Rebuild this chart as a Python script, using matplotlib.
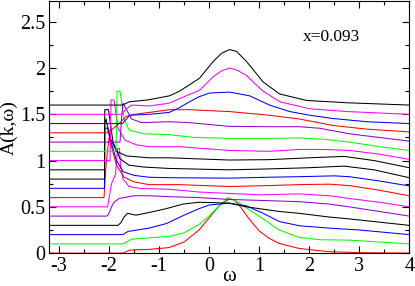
import matplotlib
matplotlib.use('Agg')
import matplotlib.pyplot as plt
from matplotlib.ticker import MultipleLocator, FormatStrFormatter

plt.rcParams['font.family'] = ['Liberation Serif', 'DejaVu Serif']
plt.rcParams['axes.unicode_minus'] = False

# A(k, w) curves; each curve is shifted up by 0.1*i
offsets = [0.0, 0.1, 0.2, 0.3, 0.4, 0.5, 0.6, 0.7, 0.8, 0.9, 1.0, 1.1, 1.2, 1.3, 1.4, 1.5, 1.6]
colors = ['#ff0000', '#00ff00', '#0000ff', '#000000', '#9400d3', '#ff00ff',
          '#ff0000', '#0000ff', '#000000', '#000000', '#ff00ff', '#00ff00',
          '#9400d3', '#ff0000', '#0000ff', '#ff00ff', '#000000']

w0 = [-3.2, -1.72, -1.6, -1.5, -1.2, -0.8, -0.5, -0.2, 0.0, 0.2, 0.4, 0.5, 0.6, 0.8, 1.0, 1.2, 1.4, 1.8, 2.4, 3.0, 4.0]
a0 = [0, 0, 0.03, 0.035, 0.04, 0.06, 0.12, 0.25, 0.38, 0.51, 0.585, 0.575, 0.52, 0.37, 0.24, 0.16, 0.105, 0.05, 0.015, 0.005, 0]

w1 = [-3.2, -1.72, -1.62, -1.55, -1.2, -0.8, -0.5, -0.2, 0.0, 0.2, 0.38, 0.55, 0.8, 1.0, 1.4, 1.8, 2.2, 2.8, 3.4, 4.0]
a1 = [0, 0, 0.03, 0.05, 0.065, 0.08, 0.12, 0.21, 0.30, 0.41, 0.50, 0.46, 0.37, 0.30, 0.15, 0.07, 0.045, 0.04, 0.02, 0.0]

w2 = [-3.2, -1.72, -1.62, -1.55, -1.2, -0.85, -0.5, -0.2, 0.0, 0.4, 0.75, 1.08, 1.41, 1.81, 2.41, 3.0, 4.0]
a2 = [0, 0, 0.035, 0.04, 0.07, 0.12, 0.21, 0.28, 0.32, 0.34, 0.31, 0.23, 0.14, 0.095, 0.07, 0.05, 0.0]

w3 = [-3.2, -1.82, -1.76, -1.70, -1.63, -1.46, -1.19, -0.86, -0.52, -0.19, 0.4, 0.75, 1.4, 1.8, 2.4, 2.8, 4.0]
a3 = [0, 0, 0.03, 0.09, 0.13, 0.11, 0.14, 0.18, 0.23, 0.25, 0.24, 0.20, 0.15, 0.13, 0.09, 0.07, 0.0]

w4 = [-3.2, -2.04, -2.0, -1.95, -1.9, -1.8, -1.7, -1.5, -1.2, -0.8, -0.2, 0.4, 1.0, 1.8, 2.4, 2.8, 3.4, 4.0]
a4 = [0, 0, 0.03, 0.10, 0.15, 0.19, 0.20, 0.22, 0.22, 0.21, 0.20, 0.18, 0.17, 0.156, 0.13, 0.10, 0.05, 0.0]

w5 = [-3.2, -2.03, -1.95, -1.87, -1.84, -1.83, -1.79, -1.77, -1.72, -1.6, -1.4, -0.8, -0.2, 1.0, 1.8, 2.4, 2.8, 3.4, 4.0]
a5 = [0, 0, 0.25, 0.35, 0.55, 0.63, 0.63, 0.45, 0.30, 0.22, 0.20, 0.19, 0.16, 0.13, 0.14, 0.12, 0.09, 0.05, 0.0]

w6 = [-3.2, -2.1, -2.06, -2.0, -1.95, -1.85, -1.7, -1.5, -1.2, -0.6, 0.4, 1.2, 1.8, 2.4, 2.8, 3.4, 4.0]
a6 = [0, 0, 0.35, 0.65, 0.55, 0.35, 0.22, 0.17, 0.14, 0.14, 0.12, 0.13, 0.14, 0.145, 0.13, 0.08, 0.02]

w7 = [-3.2, -2.09, -2.085, -2.03, -1.98, -1.85, -1.72, -1.5, -1.2, -0.8, 0.4, 1.2, 1.8, 2.5, 2.8, 3.4, 4.0]
a7 = [0, 0, 0.65, 0.65, 0.54, 0.30, 0.18, 0.14, 0.12, 0.115, 0.11, 0.12, 0.126, 0.135, 0.126, 0.08, 0.026]

w8 = [-3.2, -2.09, -2.085, -2.01, -1.92, -1.78, -1.6, -1.3, -0.8, 0.4, 1.2, 2.0, 2.7, 3.3, 4.0]
a8 = [0, 0, 0.75, 0.75, 0.40, 0.22, 0.15, 0.13, 0.115, 0.10, 0.11, 0.123, 0.14, 0.10, 0.015]

w9 = [-3.2, -2.09, -2.085, -2.06, -1.98, -1.85, -1.65, -1.2, -0.8, 0.4, 1.2, 2.0, 2.7, 3.3, 4.0]
a9 = [0, 0, 0.50, 0.55, 0.35, 0.20, 0.15, 0.13, 0.13, 0.106, 0.11, 0.13, 0.145, 0.10, 0.023]

w10 = [-3.2, -1.98, -1.96, -1.90, -1.82, -1.68, -1.45, -1.2, -0.6, 0.4, 1.2, 1.8, 2.3, 2.8, 3.4, 4.0]
a10 = [0, 0, 0.655, 0.655, 0.35, 0.22, 0.17, 0.15, 0.15, 0.11, 0.10, 0.12, 0.12, 0.11, 0.07, 0.013]

w11 = [-3.2, -1.86, -1.84, -1.78, -1.7, -1.6, -1.3, -0.8, -0.3, 0.4, 1.2, 1.8, 2.3, 2.8, 3.4, 4.0]
a11 = [0, 0, 0.65, 0.65, 0.35, 0.23, 0.19, 0.18, 0.15, 0.14, 0.14, 0.145, 0.13, 0.10, 0.05, 0.01]

w12 = [-3.2, -1.78, -1.75, -1.72, -1.65, -1.55, -1.35, -0.8, -0.4, 0.4, 1.2, 1.8, 2.2, 2.8, 3.4, 4.0]
a12 = [0, 0, 0.25, 0.42, 0.35, 0.25, 0.21, 0.22, 0.21, 0.17, 0.166, 0.166, 0.15, 0.09, 0.05, 0.01]

w13 = [-3.2, -2.05, -1.95, -1.8, -1.65, -1.5, -1.2, -0.8, -0.4, 0.4, 1.2, 1.8, 2.47, 3.15, 4.0]
a13 = [0, 0, 0.03, 0.10, 0.18, 0.20, 0.22, 0.25, 0.25, 0.23, 0.19, 0.15, 0.08, 0.04, 0.01]

w14 = [-3.2, -1.73, -1.65, -1.59, -1.2, -0.8, -0.6, -0.39, -0.2, 0.01, 0.41, 0.81, 1.21, 1.61, 2.01, 2.47, 3.15, 4.0]
a14 = [0, 0, 0.05, 0.09, 0.10, 0.12, 0.17, 0.236, 0.29, 0.33, 0.34, 0.30, 0.20, 0.13, 0.09, 0.055, 0.02, 0.0]

w15 = [-3.2, -1.75, -1.65, -1.55, -1.2, -0.8, -0.59, -0.19, 0.08, 0.25, 0.41, 0.55, 0.75, 0.9, 1.08, 1.41, 2.01, 2.75, 4.0]
a15 = [0, 0, 0.06, 0.10, 0.09, 0.12, 0.17, 0.26, 0.406, 0.47, 0.50, 0.48, 0.42, 0.34, 0.25, 0.136, 0.06, 0.03, 0.0]

w16 = [-3.2, -1.73, -1.59, -1.23, -0.79, -0.59, -0.19, 0.08, 0.25, 0.41, 0.55, 0.75, 0.9, 1.08, 1.41, 1.95, 2.75, 4.0]
a16 = [0, 0, 0.036, 0.055, 0.10, 0.15, 0.29, 0.47, 0.56, 0.60, 0.58, 0.47, 0.37, 0.25, 0.12, 0.05, 0.025, 0.0]

omegas = [w0, w1, w2, w3, w4, w5, w6, w7, w8, w9, w10, w11, w12, w13, w14, w15, w16]
spectra = [a0, a1, a2, a3, a4, a5, a6, a7, a8, a9, a10, a11, a12, a13, a14, a15, a16]

fig = plt.figure(figsize=(4.15, 2.86), dpi=100)
ax = fig.add_axes([0.118, 0.115, 0.868, 0.88])

for w, a, off, c in zip(omegas, spectra, offsets, colors):
    ax.plot(w, [v + off for v in a], color=c, lw=0.75)

ax.set_xlim(-3.2, 4)
ax.set_ylim(0, 2.72)
ax.xaxis.set_major_locator(MultipleLocator(1))
ax.xaxis.set_minor_locator(MultipleLocator(0.5))
ax.yaxis.set_major_locator(MultipleLocator(0.5))
ax.yaxis.set_minor_locator(MultipleLocator(0.25))
ax.yaxis.set_major_formatter(FormatStrFormatter('%g'))
ax.tick_params(which='both', direction='in', top=True, right=True, labelsize=14.5, width=0.8)
ax.tick_params(which='major', length=5)
ax.tick_params(which='minor', length=2.8)
ax.tick_params(axis='x', pad=3)
ax.tick_params(axis='y', pad=2.5)
for s in ax.spines.values():
    s.set_linewidth(0.8)

# axis titles placed by hand, the figure is tight at the edges
fig.text(229 / 415, 1 - 281 / 286, 'ω', fontsize=15, ha='center', va='baseline')
fig.text(0, 0.5 + 0.115 / 2 - 0.005, 'A(k,ω)', fontsize=14, rotation=90,
         ha='left', va='center')
ax.text(2.45, 2.34, 'x=0.093', fontsize=12.5, ha='center', va='center')

fig.savefig('out.png', dpi=100)
